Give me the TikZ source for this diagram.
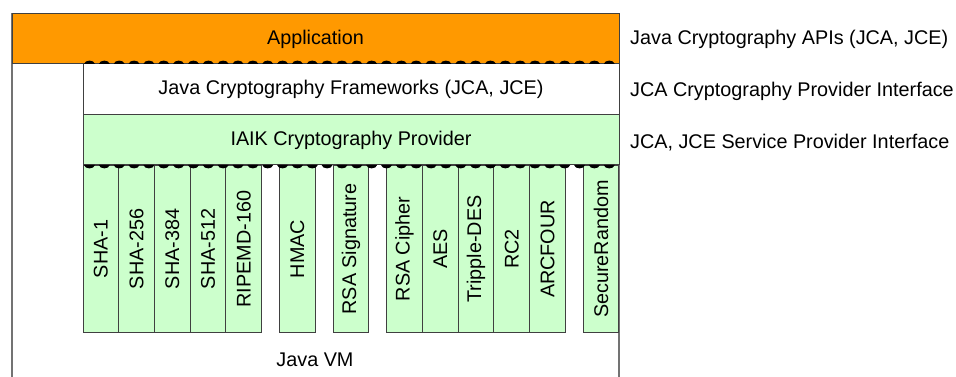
\documentclass[tikz,border=0pt]{standalone}
\usepackage{fontspec}
\setmainfont{Liberation Sans}
\definecolor{appcolor}{HTML}{FF9900}
\definecolor{provcolor}{HTML}{CCFFCC}
\tikzset{
	layer/.style = {draw = black!75, line width = 1pt, minimum height = 50, inner sep = 0},
	algo/.style = {draw = black!75, line width = 1pt, fill = provcolor, rotate = 90,
		minimum width = 166, minimum height = 35.73, inner sep = 0},
	iface/.style = {anchor = west, inner sep = 0},
}
\begin{document}
\begin{tikzpicture}[x = 1pt, y = -1pt, font = \fontsize{19.8}{23}\selectfont]
	\clip (0,0) rectangle (956,377);

	% Java VM
	\draw [black!55, line width = 1.2pt] (12,14) rectangle (619,400);
	\node (vm) at (315,360) {Java VM};

	% layers
	\node [layer, fill = appcolor, minimum width = 607] (app) at (315.5,39) {Application};
	\node [layer, fill = white, minimum width = 536, minimum height = 51] (jca) at (351,89.5) {Java Cryptography Frameworks (JCA, JCE)};
	\node [layer, fill = provcolor, minimum width = 536] (iaik) at (351,140) {IAIK Cryptography Provider};

	% algorithms
	\foreach \k/\name/\txt in {0/sha1/SHA-1, 1/sha256/SHA-256, 2/sha384/SHA-384, 3/sha512/SHA-512,
			4/ripemd/RIPEMD-160, 5.5/hmac/HMAC, 7/rsasig/RSA Signature, 8.5/rsaciph/RSA Cipher,
			9.5/aes/AES, 10.5/tdes/Tripple-DES, 11.5/rc2/RC2, 12.5/arcfour/ARCFOUR, 14/rand/SecureRandom}
		\node [algo] (\name) at (83 + 35.73*\k + 17.87, 249) {\txt};

	% interfaces
	\foreach \i in {0,...,35} {
		\fill (84 + 14.85*\i, 64) .. controls +(1,-4.5) and +(-1,-4.5) .. ++(11,0) -- cycle;
		\fill (84 + 14.85*\i, 165) .. controls +(1,4.5) and +(-1,4.5) .. ++(11,0) -- cycle;
	}

	\node [iface] (api) at (630,39) {Java Cryptography APIs (JCA, JCE)};
	\node [iface] (spi) at (630,91) {JCA Cryptography Provider Interface};
	\node [iface] (sspi) at (630,143) {JCA, JCE Service Provider Interface};
\end{tikzpicture}
\end{document}
